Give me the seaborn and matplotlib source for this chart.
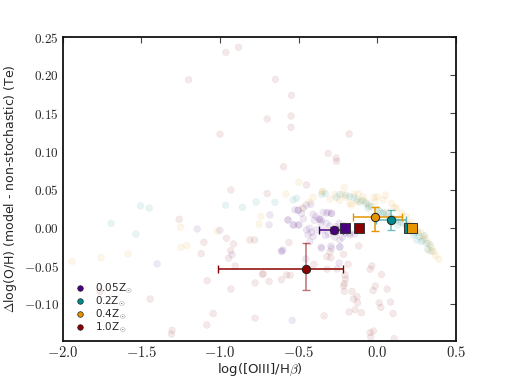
import matplotlib
matplotlib.use("Agg")
import matplotlib.pyplot as plt
from matplotlib.lines import Line2D
import seaborn as sns
import pandas as pd

# background (individual model) points, per metallicity --------

p05_x = [-0.503, -0.471, -0.45, -0.422, -0.408, -0.37, -0.344, -0.312, -0.291, -0.569, -0.535, -0.503,
         -0.45, -0.418, -0.386, -0.359, -0.323, -0.301, -0.344, -0.259, -0.252, -0.227, -0.242, -0.206,
         -0.174, -0.408, -0.44, -0.683, -0.688, -0.567, -0.531, -0.497, -0.43, -0.40, -0.354, -0.365,
         -0.291, -0.323, -0.238, -0.174, -0.143, -0.524, -0.503, -0.482, -0.429, -0.609, -0.354, -0.291,
         -0.238, -0.357, -0.295, -0.238, -0.609, -0.599, -0.454, -0.242, -0.541, -1.146, -1.001, -0.923,
         -1.40, -0.27, -0.33, -0.22, -0.19, -0.26, -0.39, -0.47, -0.31, -0.21]
p05_y = [0.023, 0.026, 0.030, 0.031, 0.018, 0.012, 0.0205, 0.0205, 0.019, 0.0105, 0.004, 0.004,
         -0.0026, -0.0057, -0.0026, 0.007, 0.006, 0.0026, -0.0026, 0.0017, -0.0026, -0.0017, 0.006, -0.007,
         -0.007, -0.0114, -0.009, 0.017, 0.004, 0.0105, 0.004, 0.004, -0.0003, 0.010, 0.0105, 0.011,
         0.019, 0.0195, -0.0157, -0.009, -0.008, 0.0236, 0.0236, 0.019, -0.018, -0.0297, -0.0266, -0.0266,
         -0.025, -0.025, -0.0236, -0.025, -0.031, -0.029, -0.0406, -0.046, -0.121, -0.0013, -0.003, -0.035,
         -0.047, -0.012, -0.010, -0.012, -0.004, -0.006, 0.015, 0.012, -0.008, 0.003]

p02_x = [-1.506, -1.451, -1.693, -1.536, -0.965, -0.857, -0.77, -0.651, -0.535, -0.513, -0.354, -0.33,
         -0.259, -0.238, -0.11, -0.073, -0.036, 0.006, 0.038, 0.059, 0.101, 0.144, 0.186, 0.218,
         0.239, 0.267, 0.292, 0.314, 0.335, 0.25, -0.15, -0.13, -0.09, -0.055, 0.02, 0.08,
         0.12, 0.165, 0.2, 0.23, 0.26, 0.28, 0.30, 0.32, 0.345, -0.20, -0.175, -0.06, 0.04, 0.13]
p02_y = [0.029, 0.026, 0.006, -0.008, 0.0297, 0.027, 0.034, 0.0336, 0.0367, 0.039, 0.044, 0.045,
         0.040, 0.044, 0.034, 0.032, 0.028, 0.0236, 0.019, 0.017, 0.0127, 0.008, 0.004, -0.0026,
         -0.006, -0.0114, -0.0157, -0.020, -0.022, -0.0157, 0.040, 0.037, 0.036, 0.030, 0.021, 0.015,
         0.010, 0.006, 0.001, -0.009, -0.006, -0.018, -0.010, -0.028, -0.030, 0.043, 0.041, 0.026, 0.020, 0.004]

p04_x = [-0.499, -0.21, -0.346, -0.74, -0.751, -1.251, -1.018, -1.249, -1.211, -1.585, -1.758, -1.941,
         -0.581, -0.35, -0.408, -0.433, -0.475, -0.27, -0.221, -0.147, -0.174, -0.10, -0.068, -0.015,
         0.0, 0.053, 0.091, 0.122, 0.155, 0.186, 0.218, 0.25, 0.292, 0.324, 0.345, 0.36,
         0.392, -0.09, -0.02, 0.038, 0.108, -0.128, -0.164, -0.20, -0.12, 0.06, 0.14, 0.20,
         0.28, 0.31, 0.33, 0.37, -0.05, 0.0, -0.30, -0.24]
p04_y = [0.060, 0.053, 0.048, 0.0153, 0.005, 0.001, -0.0043, -0.0253, -0.023, -0.034, -0.039, -0.0436,
         0.0445, 0.047, 0.040, 0.034, 0.026, 0.044, 0.044, 0.044, 0.032, 0.036, 0.034, 0.034,
         0.041, 0.043, 0.032, 0.026, 0.020, 0.015, 0.008, -0.0026, -0.0114, -0.020, -0.025, -0.031,
         -0.041, 0.041, 0.040, 0.0367, 0.027, 0.034, 0.030, 0.040, 0.045, 0.020, 0.012, 0.005,
         -0.006, -0.014, -0.030, -0.036, 0.028, 0.024, 0.038, 0.036]

p10_x = [-0.963, -0.882, -1.20, -1.0, -0.931, -0.647, -0.545, -0.70, -0.548, -0.548, -0.179, -0.312,
         -0.261, -0.259, -0.596, -0.45, -1.26, -0.959, -1.103, -0.914, -0.81, -0.78, -1.12, -0.933,
         -0.946, -0.904, -1.082, -0.931, -0.777, -0.73, -1.763, -1.445, -1.044, -0.777, -1.084, -1.305,
         -1.309, -0.562, -0.117, -0.30, -0.321, -0.295, -0.214, -0.403, -0.185, -0.319, -0.255, -0.726,
         -0.554, -0.688, -0.609, -0.204, -0.202, -0.208, -0.215, -0.209, -0.16, -0.128, -0.151, -0.125,
         -0.14, -0.179, -0.10, -0.034, -0.045, 0.027, -0.013, -0.026, 0.063, 0.012, 0.023, 0.085,
         0.101, -0.338, -0.045, -0.024, -0.041, 0.108, -0.70, -0.577]
p10_y = [0.230, 0.2365, 0.194, 0.1226, 0.0497, 0.1946, 0.1737, 0.1427, 0.1466, 0.1318, 0.123, 0.0977,
         0.0916, 0.0873, 0.080, 0.0563, 0.0114, -0.0135, -0.0187, -0.021, -0.0157, -0.0157, -0.0336, -0.0297,
         -0.0397, -0.0497, -0.069, -0.080, -0.072, -0.0606, -0.083, -0.093, -0.112, -0.118, -0.127, -0.134,
         -0.139, -0.019, -0.0236, -0.031, -0.0375, -0.039, -0.0345, -0.0476, -0.0476, -0.054, -0.0537, -0.060,
         -0.062, -0.070, -0.0677, -0.0615, -0.067, -0.073, -0.076, -0.083, -0.083, -0.090, -0.093, -0.098,
         -0.107, -0.110, -0.111, -0.0497, -0.054, -0.061, -0.076, -0.082, -0.080, -0.098, -0.104, -0.097,
         -0.112, -0.115, -0.137, -0.135, -0.143, -0.145, 0.045, -0.0615]

# median points (circles, with errors) and stochastic-free points (squares) ----

labels = ["0.05Z$_{\\odot}$", "0.2Z$_{\\odot}$", "0.4Z$_{\\odot}$", "1.0Z$_{\\odot}$"]
colors = ["#4b0082", "#008b8b", "#e69500", "#8b0000"]

med_x = [-0.278, 0.085, -0.015, -0.456]
med_y = [-0.0026, 0.0105, 0.014, -0.0537]
xerr_lo = [0.092, 0.094, 0.138, 0.554]
xerr_hi = [0.06, 0.097, 0.17, 0.237]
yerr_lo = [0.004, 0.013, 0.018, 0.028]
yerr_hi = [0.004, 0.013, 0.013, 0.034]

sq_x = [-0.204, 0.201, 0.222, -0.115]
sq_y = [0.0, 0.0, 0.0, 0.0]

bg = pd.concat([
    pd.DataFrame({"x": p05_x, "y": p05_y, "Z": labels[0]}),
    pd.DataFrame({"x": p02_x, "y": p02_y, "Z": labels[1]}),
    pd.DataFrame({"x": p04_x, "y": p04_y, "Z": labels[2]}),
    pd.DataFrame({"x": p10_x, "y": p10_y, "Z": labels[3]}),
])

sns.set_style("white")
plt.rcParams["mathtext.fontset"] = "cm"
plt.rcParams["font.family"] = ["DejaVu Sans"]

fig = plt.figure(figsize=(5.07, 3.8), dpi=100)
ax = fig.add_axes([0.124, 0.1026, 0.775, 0.8])

sns.scatterplot(data=bg, x="x", y="y", hue="Z", palette=dict(zip(labels, colors)),
                alpha=0.09, s=24, linewidth=0.3, edgecolor="face", legend=False, ax=ax, zorder=1)

for i in range(4):
    c = colors[i]
    ya = 0.55 if i in (1, 3) else 1.0
    xa = 0.6 if i == 1 else 1.0
    ax.errorbar(med_x[i], med_y[i], xerr=[[xerr_lo[i]], [xerr_hi[i]]], fmt="none",
                ecolor=c, elinewidth=1.1, capsize=3, alpha=xa, zorder=3)
    ax.errorbar(med_x[i], med_y[i], yerr=[[yerr_lo[i]], [yerr_hi[i]]], fmt="none",
                ecolor=c, elinewidth=1.1, capsize=3, alpha=ya, zorder=3)
    ax.plot(med_x[i], med_y[i], "o", color=c, markersize=6, markeredgecolor="#222222",
            markeredgewidth=0.7, zorder=5)
    ax.plot(sq_x[i], sq_y[i], "s", color=c, markersize=7, markeredgecolor="#333333",
            markeredgewidth=0.7, zorder=4)

handles = [Line2D([], [], ls="none", marker="o", color=c, markersize=4,
                  markeredgecolor="#222222", markeredgewidth=0.5) for c in colors]
ax.legend(handles, labels, loc="lower left", frameon=False, fontsize=7.5,
          handletextpad=0.5, labelspacing=-0.12, borderpad=0.1, bbox_to_anchor=(0.0, 0.0))

ax.set_xlim(-2.0, 0.5)
ax.set_ylim(-0.148, 0.25)
xt = [-2.0, -1.5, -1.0, -0.5, 0.0, 0.5]
yt = [-0.10, -0.05, 0.00, 0.05, 0.10, 0.15, 0.20, 0.25]
ax.set_xticks(xt)
ax.set_xticklabels(["$%.1f$" % v for v in xt], fontsize=10.5)
ax.set_yticks(yt)
ax.set_yticklabels(["$%.2f$" % v for v in yt], fontsize=9.5)
ax.tick_params(direction="in", length=4, width=0.8, top=True, right=True, color="#444444", pad=3)

for s in ax.spines.values():
    s.set_linewidth(1.3)
    s.set_color("#111111")

ax.set_xlabel("log([OIII]/H$\\beta$)", fontsize=9.5, labelpad=1)
ax.set_ylabel("$\\Delta$log(O/H) (model - non-stochastic) (Te)", fontsize=9, labelpad=3)

fig.savefig("out.png", dpi=100)
